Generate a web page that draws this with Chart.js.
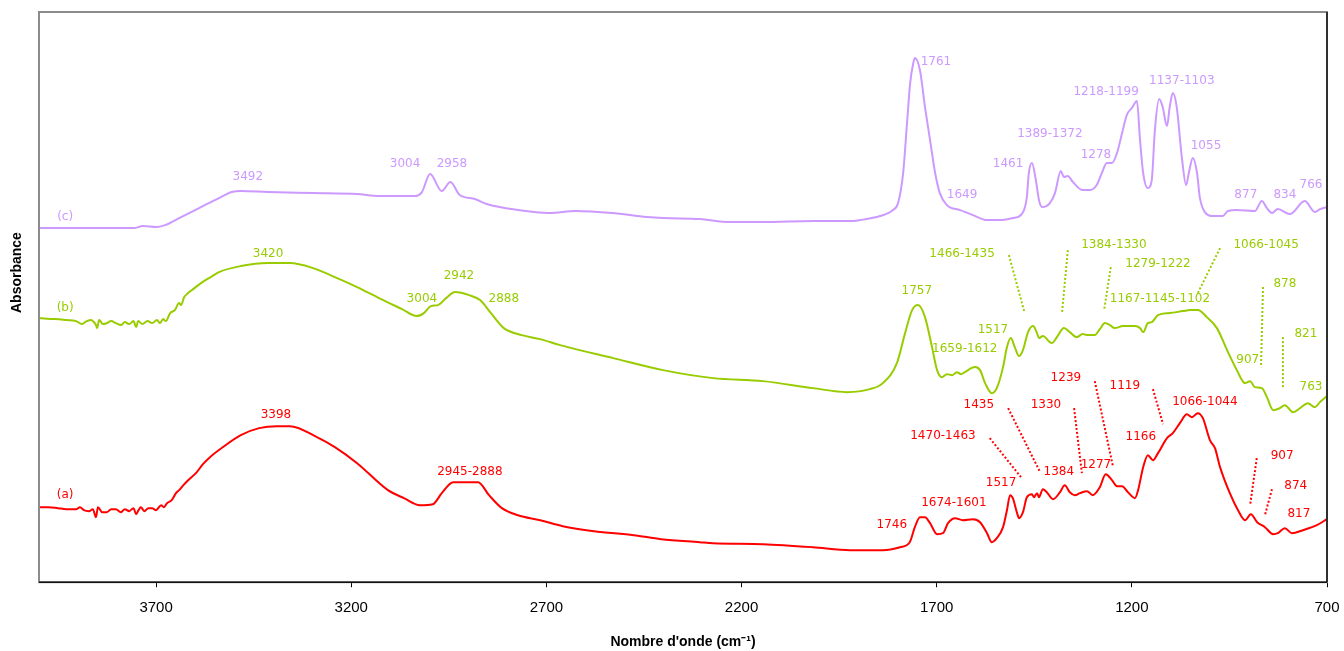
<!DOCTYPE html>
<html><head><meta charset="utf-8">
<script src="https://cdn.jsdelivr.net/npm/chart.js@4.4.1/dist/chart.umd.min.js"></script>
<style>html,body{margin:0;padding:0;background:#fff}#wrap{width:1344px;height:651px;position:relative}</style>
</head><body><div id="wrap"><canvas id="c"></canvas></div>
<script>
// ---- x axis ticks (wavenumber, cm-1) ----
const tickValues = [3700, 3200, 2700, 2200, 1700, 1200, 700];
const seriesNames = ['(a)', '(b)', '(c)'];

// ---- spectrum (a) ----
const waveA = [4000,3975,3951,3930,3905,3895,3885,3872,3862,3854,3849,3838,3826,3815,3803,3790,3780,3769,3758,3751,3745,3739,3730,3720,3710,3700,3687,3680,3672,3660,3649,3641,3630,3618,3598,3580,3562,3529,3483,3436,3390,3357,3288,3242,3185,3106,3065,3024,2991,2968,2939,2875,2847,2814,2773,2716,2658,2578,2476,2406,2307,2273,2145,2017,1922,1838,1794,1769,1756,1743,1730,1717,1699,1684,1671,1653,1633,1607,1589,1571,1559,1546,1530,1520,1512,1505,1494,1489,1479,1469,1456,1451,1443,1438,1428,1418,1402,1384,1372,1359,1346,1333,1315,1300,1282,1267,1251,1238,1225,1210,1192,1184,1171,1159,1146,1133,1110,1095,1077,1059,1046,1031,1018,1000,987,974,949,928,910,895,879,859,838,826,808,790,762,726,700];
const absA = [0.75,0.75,0.74,0.73,0.73,0.75,0.72,0.71,0.73,0.65,0.75,0.70,0.70,0.73,0.73,0.70,0.73,0.71,0.74,0.68,0.72,0.75,0.71,0.74,0.74,0.72,0.77,0.75,0.79,0.82,0.89,0.92,0.97,1.02,1.09,1.18,1.25,1.35,1.47,1.54,1.56,1.56,1.45,1.35,1.19,0.92,0.84,0.77,0.78,0.89,1.00,1.00,0.87,0.74,0.67,0.62,0.56,0.51,0.47,0.43,0.40,0.39,0.38,0.35,0.32,0.32,0.35,0.40,0.55,0.65,0.65,0.59,0.48,0.49,0.59,0.64,0.62,0.63,0.60,0.49,0.40,0.44,0.55,0.72,0.87,0.84,0.69,0.64,0.70,0.85,0.88,0.85,0.89,0.85,0.93,0.90,0.83,0.90,0.97,0.90,0.87,0.89,0.91,0.87,0.95,1.08,1.02,0.96,0.96,0.90,0.84,0.92,1.15,1.27,1.22,1.29,1.44,1.49,1.59,1.68,1.65,1.69,1.64,1.42,1.34,1.15,0.89,0.72,0.62,0.68,0.60,0.55,0.48,0.49,0.54,0.49,0.52,0.57,0.63];

// ---- spectrum (b) ----
const waveB = [4000,3960,3930,3905,3890,3882,3868,3854,3851,3846,3836,3826,3815,3803,3790,3780,3769,3758,3751,3746,3735,3722,3710,3698,3690,3682,3675,3664,3652,3641,3636,3628,3618,3605,3585,3560,3539,3483,3413,3357,3298,3242,3185,3129,3070,3032,3014,2996,2978,2957,2934,2898,2870,2842,2809,2763,2716,2665,2529,2401,2273,2145,2017,1930,1871,1838,1802,1781,1763,1748,1730,1712,1699,1687,1674,1660,1648,1638,1628,1602,1589,1576,1559,1546,1530,1520,1510,1500,1489,1479,1466,1453,1443,1438,1428,1405,1392,1374,1359,1341,1326,1313,1295,1282,1269,1256,1244,1223,1192,1179,1171,1159,1149,1133,1103,1069,1051,1031,1008,982,956,931,910,897,885,867,854,838,821,808,787,769,749,731,718,700];
const absB = [2.64,2.63,2.62,2.61,2.58,2.60,2.62,2.57,2.54,2.62,2.58,2.59,2.61,2.59,2.57,2.60,2.58,2.61,2.55,2.61,2.58,2.61,2.59,2.62,2.59,2.63,2.61,2.69,2.72,2.79,2.77,2.85,2.89,2.93,2.99,3.05,3.10,3.16,3.19,3.19,3.14,3.05,2.95,2.84,2.73,2.66,2.69,2.76,2.77,2.84,2.90,2.87,2.82,2.69,2.54,2.47,2.43,2.37,2.24,2.12,2.04,2.01,1.94,1.90,1.93,1.99,2.19,2.49,2.72,2.77,2.65,2.35,2.12,2.05,2.08,2.07,2.10,2.08,2.10,2.15,2.12,1.99,1.89,1.94,2.15,2.35,2.44,2.35,2.26,2.32,2.50,2.56,2.49,2.44,2.46,2.39,2.45,2.54,2.50,2.45,2.48,2.47,2.47,2.53,2.59,2.57,2.54,2.56,2.56,2.54,2.50,2.59,2.60,2.67,2.69,2.71,2.72,2.72,2.65,2.54,2.32,2.12,1.99,2.01,1.95,1.94,1.85,1.72,1.74,1.77,1.70,1.74,1.79,1.75,1.80,1.86];

// ---- spectrum (c) ----
const waveC = [4000,3900,3757,3734,3700,3677,3641,3585,3539,3506,3483,3413,3298,3185,3129,3037,3019,2998,2968,2946,2922,2883,2853,2773,2693,2624,2532,2442,2401,2307,2230,2145,2017,1922,1897,1845,1812,1799,1786,1776,1768,1760,1756,1743,1730,1717,1704,1692,1674,1640,1607,1571,1538,1505,1482,1469,1464,1456,1446,1438,1430,1410,1397,1382,1374,1364,1351,1326,1307,1290,1277,1264,1251,1238,1225,1213,1200,1187,1179,1171,1159,1149,1141,1130,1121,1110,1103,1095,1085,1072,1061,1054,1044,1033,1026,1013,992,967,954,931,885,867,854,841,826,795,757,731,718,700];
const absC = [3.54,3.54,3.54,3.56,3.55,3.57,3.64,3.75,3.84,3.90,3.91,3.90,3.89,3.88,3.86,3.86,3.90,4.08,3.91,4.00,3.87,3.83,3.78,3.72,3.69,3.71,3.69,3.65,3.64,3.63,3.60,3.60,3.61,3.61,3.62,3.66,3.72,3.79,4.09,4.59,4.99,5.19,5.24,5.12,4.75,4.42,4.09,3.89,3.77,3.72,3.67,3.62,3.62,3.64,3.68,3.85,4.09,4.19,4.02,3.82,3.75,3.79,3.89,4.11,4.05,4.06,4.00,3.92,3.92,3.97,4.09,4.19,4.19,4.29,4.49,4.67,4.74,4.81,4.42,4.09,3.94,4.02,4.52,4.83,4.75,4.56,4.75,4.89,4.75,4.25,3.97,4.09,4.24,4.09,3.85,3.70,3.66,3.66,3.71,3.72,3.71,3.81,3.74,3.69,3.73,3.68,3.81,3.70,3.73,3.75];

// ---- peak labels: [text, wavenumber, absorbance] ----
const peakLabelsA = [["(a)",3933,0.87],["3398",3393,1.67],["2945-2888",2896,1.10],["1746",1815,0.57],["1674-1601",1656,0.79],["1517",1535,0.99],["1470-1463",1684,1.46],["1435",1592,1.77],["1384",1387,1.10],["1330",1420,1.77],["1277",1292,1.17],["1239",1369,2.04],["1166",1177,1.45],["1119",1218,1.96],["1066-1044",1013,1.80],["907",815,1.26],["874",780,0.96],["817",772,0.68]];
const peakLabelsB = [["(b)",3933,2.74],["3420",3413,3.28],["3004",3019,2.83],["2942",2924,3.06],["2888",2809,2.83],["1757",1751,2.91],["1659-1612",1628,2.33],["1517",1556,2.52],["1466-1435",1635,3.28],["1384-1330",1246,3.37],["1279-1222",1133,3.18],["1167-1145-1102",1128,2.83],["1066-1045",856,3.37],["878",808,2.98],["907",903,2.22],["821",754,2.48],["763",741,1.95]];
const peakLabelsC = [["(c)",3933,3.65],["3492",3465,4.05],["3004",3062,4.18],["2958",2942,4.18],["1761",1702,5.20],["1649",1635,3.87],["1461",1517,4.18],["1389-1372",1410,4.48],["1278",1292,4.27],["1218-1199",1266,4.90],["1137-1103",1072,5.01],["1055",1010,4.36],["877",908,3.87],["834",808,3.87],["766",741,3.97]];

// ---- dotted leader lines: [w1, a1, w2, a2] ----
const leadersA = [[1564,1.44,1484,1.05],[1517,1.74,1435,1.10],[1348,1.74,1328,1.09],[1295,2.01,1248,1.15],[1146,1.93,1120,1.58],[880,1.24,897,0.77],[841,0.93,859,0.67]];
const leadersB = [[1515,3.27,1476,2.71],[1364,3.32,1379,2.69],[1254,3.15,1271,2.72],[974,3.34,1031,2.89],[864,2.95,869,2.15],[813,2.45,813,1.94]];

const colA = '#FF0000', colB = '#99CC00', colC = '#CC99FF';

function pts(w, a) { return w.map((v, i) => ({x: v, y: a[i]})); }

const annotPlugin = {
  id: 'annot',
  afterDatasetsDraw(chart) {
    const {ctx, scales: {x, y}, chartArea: ca} = chart;
    ctx.save();
    // dotted leaders
    ctx.lineWidth = 2;
    ctx.setLineDash([2, 2]);
    [[leadersA, colA], [leadersB, colB]].forEach(([arr, col]) => {
      ctx.strokeStyle = col;
      arr.forEach(l => {
        ctx.beginPath();
        ctx.moveTo(x.getPixelForValue(l[0]), y.getPixelForValue(l[1]));
        ctx.lineTo(x.getPixelForValue(l[2]), y.getPixelForValue(l[3]));
        ctx.stroke();
      });
    });
    ctx.setLineDash([]);
    // labels
    ctx.font = '12px "DejaVu Sans"';
    ctx.textAlign = 'center';
    ctx.textBaseline = 'middle';
    [[peakLabelsA, colA], [peakLabelsB, colB], [peakLabelsC, colC]].forEach(([arr, col]) => {
      ctx.fillStyle = col;
      arr.forEach(l => ctx.fillText(l[0], x.getPixelForValue(l[1]), y.getPixelForValue(l[2])));
    });
    // frame
    ctx.lineWidth = 2;
    ctx.strokeStyle = '#8c8c8c';
    ctx.strokeRect(ca.left, ca.top, ca.right - ca.left, ca.bottom - ca.top);
    ctx.lineWidth = 1.5;
    ctx.strokeStyle = '#111';
    ctx.beginPath();
    ctx.moveTo(ca.right, ca.top); ctx.lineTo(ca.right, ca.bottom);
    ctx.moveTo(ca.left, ca.bottom); ctx.lineTo(ca.right, ca.bottom);
    ctx.stroke();
    // y title
    ctx.translate(17, ca.top + (ca.bottom - ca.top) * 0.457);
    ctx.rotate(-Math.PI / 2);
    ctx.fillStyle = '#000';
    ctx.font = 'bold 14px "Liberation Sans", Arial, sans-serif';
    ctx.fillText('Absorbance', 0, 0);
    ctx.restore();
  }
};

const ds = (label, w, a, col) => ({
  label, data: pts(w, a), borderColor: col, borderWidth: 2, pointRadius: 0,
  fill: false, cubicInterpolationMode: 'monotone', tension: 0.4
});

new Chart(document.getElementById('c'), {
  type: 'line',
  data: { datasets: [
    ds(seriesNames[2], waveC, absC, colC),
    ds(seriesNames[1], waveB, absB, colB),
    ds(seriesNames[0], waveA, absA, colA)
  ]},
  options: {
    responsive: true, maintainAspectRatio: false, animation: false,
    layout: { padding: { left: 39, right: 17, top: 12, bottom: 0 } },
    plugins: { legend: { display: false }, tooltip: { enabled: false } },
    scales: {
      x: {
        type: 'linear', min: 700, max: 4000, reverse: true,
        afterBuildTicks: s => { s.ticks = tickValues.map(v => ({value: v})); },
        afterFit: s => { s.paddingLeft = 0; s.paddingRight = 0; },
        grid: { drawOnChartArea: false, drawTicks: true, tickLength: 5, color: '#000', lineWidth: 1 },
        border: { display: false },
        ticks: { color: '#000', padding: 12, maxRotation: 0, autoSkip: false,
                 font: { family: '"Liberation Sans", Arial, sans-serif', size: 15 },
                 callback: v => String(v) },
        title: { display: true, text: "Nombre d'onde (cm\u207B\u00B9)", color: '#000',
                 font: { family: '"Liberation Sans", Arial, sans-serif', size: 14, weight: 'bold' },
                 padding: { top: 5, bottom: 0 } }
      },
      y: { type: 'linear', min: 0, max: 5.70, display: false }
    }
  },
  plugins: [annotPlugin]
});
</script>
</body></html>
